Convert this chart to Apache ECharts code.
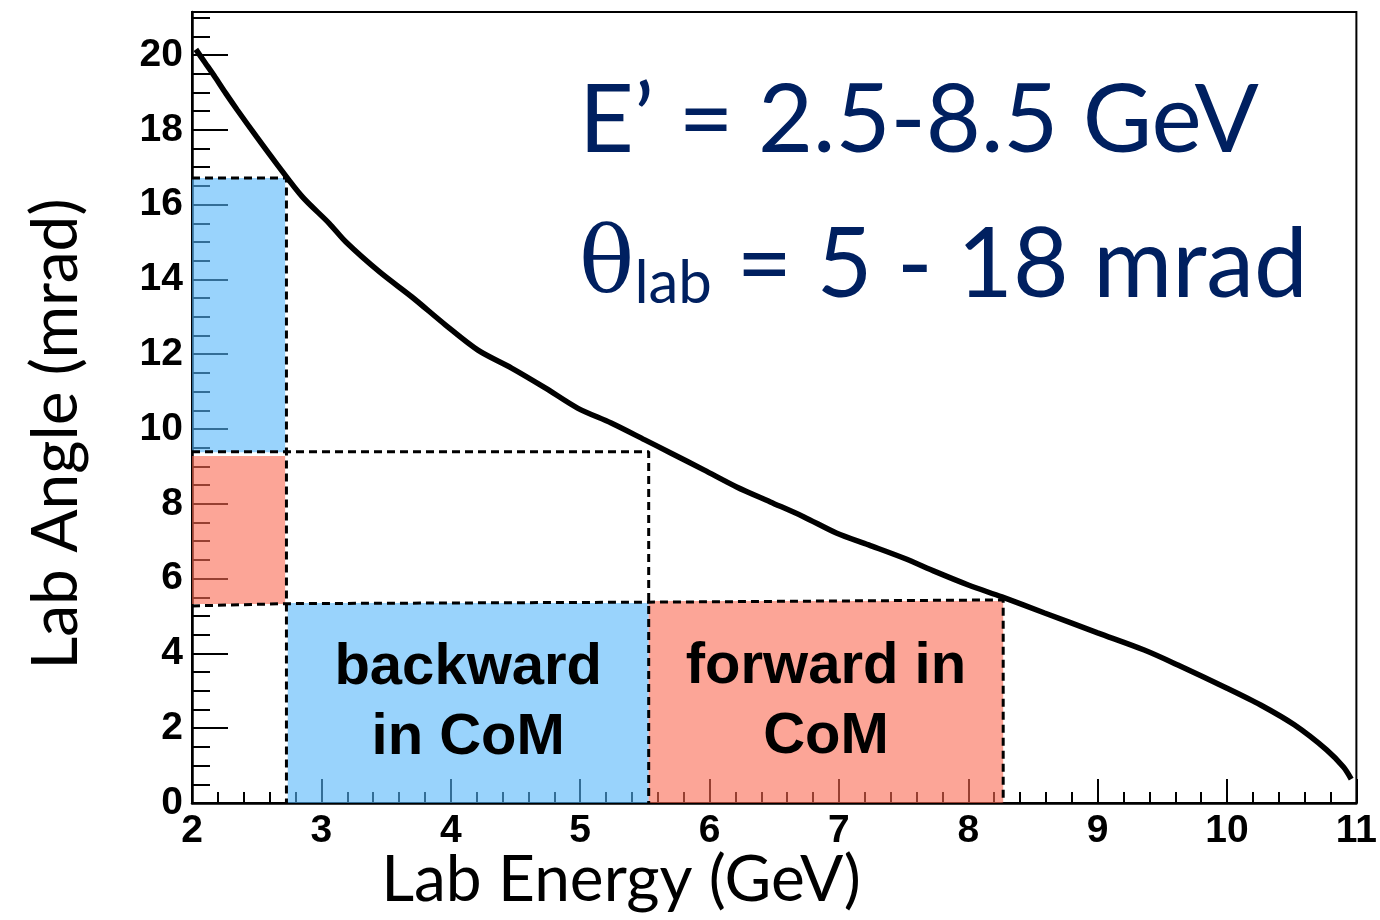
<!DOCTYPE html>
<html>
<head>
<meta charset="utf-8">
<script src="https://cdn.jsdelivr.net/npm/echarts@6/dist/echarts.min.js"></script>
<style>html,body{margin:0;padding:0;background:#fff;}#chart{width:1380px;height:920px;}</style>
</head>
<body>
<div id="chart"></div>
<script>
// ---- data ----
const energy = [2.03, 2.10, 2.18, 2.26, 2.35, 2.50, 2.65, 2.85, 3.06, 3.19, 3.45, 3.70, 3.96, 4.21, 4.47, 4.73, 4.98, 5.24, 5.50, 5.70, 5.96, 6.21, 6.47, 6.73, 6.98, 7.23, 7.50, 7.75, 8.00, 8.26, 8.59, 9.00, 9.36, 9.62, 10.00, 10.26, 10.52, 10.77, 10.90, 10.96];
const angle  = [20.15, 19.80, 19.40, 18.98, 18.53, 17.81, 17.11, 16.22, 15.50, 15.00, 14.20, 13.53, 12.78, 12.11, 11.63, 11.10, 10.56, 10.16, 9.71, 9.36, 8.90, 8.45, 8.05, 7.65, 7.22, 6.90, 6.55, 6.18, 5.83, 5.51, 5.08, 4.55, 4.09, 3.69, 3.07, 2.62, 2.09, 1.42, 0.96, 0.64];

const regionX0 = [2, 2, 2.74, 5.53];
const regionX1 = [2.72, 2.72, 5.53, 8.27];
const regionY0 = [9.38, 5.32, 0, 0];
const regionY1 = [16.71, 9.28, 5.35, 5.40];
const regionKind = ['blue', 'red', 'blue', 'red'];
const regionLabels = ['', '', 'backward\nin CoM', 'forward in\nCoM'];

const guide1X = [2, 2.73, 2.73];
const guide1Y = [16.71, 16.71, 0];
const guide2X = [2, 5.53, 5.53];
const guide2Y = [9.39, 9.39, 0];
const guide3X = [2, 2.73, 5.53, 8.27, 8.27];
const guide3Y = [5.27, 5.33, 5.37, 5.43, 0];

const xMin = 2, xMax = 11, xStep = 1;
const yMin = 0, yMax = 21.15, yStep = 2, yMinorStep = 0.5;

const xTitle = 'Lab Energy (GeV)';
const yTitle = 'Lab Angle (mrad)';
const note1 = 'E’ = 2.5-8.5 GeV';
const note2Sym = 'θ', note2Sub = 'lab', note2Rest = ' = 5 - 18 mrad';

// ---- chart ----
const fillColors = { blue: 'rgba(85,182,250,0.6)', red: 'rgba(250,105,82,0.6)' };
const zip = (xs, ys) => xs.map((x, i) => [x, ys[i]]);
const regions = regionX0.map((x0, i) => [x0, regionX1[i], regionY0[i], regionY1[i], i]);

const chart = echarts.init(document.getElementById('chart'), null, { renderer: 'canvas' });
const tickLabelFont = { color: '#000', fontFamily: '"Liberation Sans", Arial, sans-serif', fontWeight: 'bold', fontSize: 39 };
const dashed = { color: '#000', width: 3, type: [8, 5] };

chart.setOption({
  animation: false,
  backgroundColor: '#fff',
  grid: { left: 192, right: 17, top: 12, bottom: 117, show: true, borderColor: '#000', borderWidth: 2, backgroundColor: 'transparent' },
  xAxis: {
    type: 'value', min: xMin, max: xMax, interval: xStep,
    axisLine: { show: true, lineStyle: { color: '#000', width: 2.5 } },
    axisTick: { show: true, inside: true, length: 24, lineStyle: { color: '#000', width: 2 } },
    minorTick: { show: true, splitNumber: 5, length: 11, lineStyle: { color: '#000', width: 2 } },
    splitLine: { show: false },
    axisLabel: Object.assign({ margin: 9 }, tickLabelFont)
  },
  yAxis: [
    {
      type: 'value', min: yMin, max: yMax, interval: yStep, position: 'left', offset: 0,
      axisLine: { show: true, lineStyle: { color: '#000', width: 2.5 } },
      axisTick: { show: true, inside: true, length: 36, lineStyle: { color: '#000', width: 2 } },
      splitLine: { show: false },
      axisLabel: Object.assign({ margin: 9, showMaxLabel: false, formatter: v => (Math.abs(v / yStep - Math.round(v / yStep)) < 1e-6 ? String(v) : '') }, tickLabelFont)
    },
    {
      type: 'value', min: yMin, max: yMax, interval: yMinorStep, position: 'left', offset: 0,
      axisLine: { show: false },
      axisTick: { show: true, inside: true, length: 18, lineStyle: { color: '#000', width: 2 } },
      splitLine: { show: false },
      axisLabel: { show: false }
    }
  ],
  graphic: [
    { type: 'text', x: 621, y: 880, style: { text: xTitle, fill: '#000', font: '64px Lato, "Open Sans", sans-serif', textAlign: 'center', textVerticalAlign: 'middle' } },
    { type: 'text', x: 56, y: 434, rotation: Math.PI / 2, style: { text: yTitle, fill: '#000', font: '64px Lato, "Open Sans", sans-serif', textAlign: 'center', textVerticalAlign: 'middle' } },
    { type: 'text', left: 579, top: 74, style: { text: note1, fill: '#002060', font: '95px Lato, "Open Sans", sans-serif' } },
    { type: 'text', left: 579, top: 218, style: {
        text: '{s|' + note2Sym + '}{b|' + note2Sub + '}{m|' + note2Rest + '}', fill: '#002060',
        rich: {
          s: { fontFamily: 'DejaVu Serif, serif', fontSize: 92, fill: '#002060', verticalAlign: 'bottom', lineHeight: 106 },
          b: { fontFamily: 'Lato, sans-serif', fontSize: 60, fill: '#002060', verticalAlign: 'bottom', lineHeight: 86 },
          m: { fontFamily: 'Lato, sans-serif', fontSize: 96, fill: '#002060', verticalAlign: 'bottom', lineHeight: 106 }
        } } }
  ],
  series: [
    {
      type: 'custom', name: 'regions', z: 3,
      data: regions,
      renderItem: function (params, api) {
        const p0 = api.coord([api.value(0), api.value(3)]);
        const p1 = api.coord([api.value(1), api.value(2)]);
        const idx = api.value(4);
        return {
          type: 'rect',
          shape: { x: p0[0], y: p0[1], width: p1[0] - p0[0], height: p1[1] - p0[1] },
          style: { fill: fillColors[regionKind[idx]] },
          textContent: {
            style: { text: regionLabels[idx], fill: '#000', font: 'bold 58px "Liberation Sans", Arial, sans-serif', lineHeight: 70, align: 'center' }
          },
          textConfig: { position: 'inside' }
        };
      }
    },
    { type: 'line', z: 4, data: zip(guide1X, guide1Y), symbol: 'none', lineStyle: dashed, silent: true },
    { type: 'line', z: 4, data: zip(guide2X, guide2Y), symbol: 'none', lineStyle: dashed, silent: true },
    { type: 'line', z: 4, data: zip(guide3X, guide3Y), symbol: 'none', lineStyle: dashed, silent: true },
    { type: 'line', z: 5, data: zip(energy, angle), symbol: 'none', smooth: 0.3, lineStyle: { color: '#000', width: 5.5 } }
  ]
});
</script>
</body>
</html>
